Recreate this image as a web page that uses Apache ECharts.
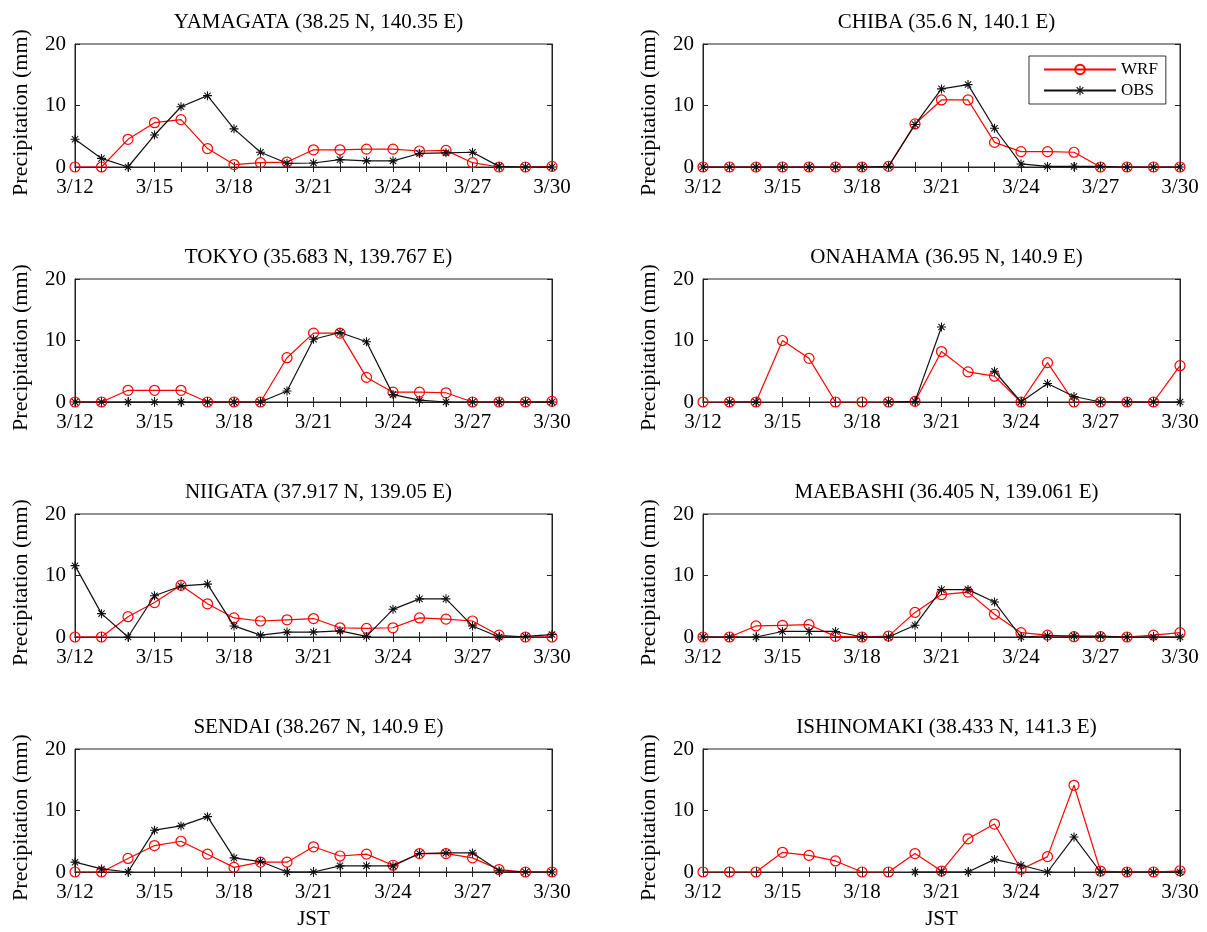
<!DOCTYPE html>
<html><head><meta charset="utf-8">
<script src="https://cdn.jsdelivr.net/npm/echarts@6/dist/echarts.min.js"></script>
<style>html,body{margin:0;padding:0;background:#fff}#c{width:1207px;height:932px}</style>
</head><body><div id="c"></div>
<script>
const days = ['3/12','3/13','3/14','3/15','3/16','3/17','3/18','3/19','3/20','3/21','3/22','3/23','3/24','3/25','3/26','3/27','3/28','3/29','3/30'];
const yTicks = [0, 10, 20];
const stationTitles = [
  'YAMAGATA (38.25 N, 140.35 E)', 'CHIBA (35.6 N, 140.1 E)',
  'TOKYO (35.683 N, 139.767 E)', 'ONAHAMA (36.95 N, 140.9 E)',
  'NIIGATA (37.917 N, 139.05 E)', 'MAEBASHI (36.405 N, 139.061 E)',
  'SENDAI (38.267 N, 140.9 E)', 'ISHINOMAKI (38.433 N, 141.3 E)'
];
const yamagataWRF = [0,0,4.5,7.2,7.7,3.0,0.4,0.7,0.8,2.8,2.8,2.9,2.9,2.6,2.7,0.7,0,0,0.1];
const yamagataOBS = [4.5,1.4,0,5.2,9.8,11.6,6.2,2.4,0.6,0.65,1.2,1.0,1.0,2.2,2.3,2.4,0.1,0,0];
const chibaWRF = [0,0,0,0,0,0,0,0.1,7.0,10.9,10.9,4.0,2.5,2.5,2.4,0,0,0,0];
const chibaOBS = [0,0,0,0,0,0,0,0.1,6.9,12.7,13.4,6.3,0.5,0.1,0.1,0.1,0,0,0];
const tokyoWRF = [0,0,1.9,1.9,1.9,0,0,0,7.2,11.2,11.2,4.0,1.6,1.6,1.5,0,0,0,0.1];
const tokyoOBS = [0,0,0,0,0,0,0,0,1.8,10.2,11.3,9.8,1.2,0.3,0,0,0,0,0];
const onahamaWRF = [0,0,0,10.0,7.1,0,0,0,0.1,8.2,4.9,4.2,0,6.4,0,0,0,0,5.9];
const onahamaOBS = [null,0,0,null,null,null,null,0,0.1,12.2,null,5.0,0,3.0,0.9,0,0,0,0];
const niigataWRF = [0,0,3.3,5.6,8.4,5.4,3.1,2.6,2.8,3.0,1.5,1.4,1.5,3.1,2.9,2.6,0.3,0,0];
const niigataOBS = [11.6,3.8,0,6.7,8.3,8.6,1.8,0.3,0.8,0.8,1.0,0.1,4.5,6.2,6.2,1.8,0,0.1,0.4];
const maebashiWRF = [0,0,1.8,1.9,2.0,0.1,0,0.15,4.0,6.9,7.3,3.7,0.7,0.3,0.05,0.05,0,0.3,0.7];
const maebashiOBS = [0,0,0,0.9,0.9,0.9,0,0,1.9,7.7,7.7,5.7,0,0.2,0.15,0.15,0,0,0];
const sendaiWRF = [0,0,2.2,4.3,5.0,2.9,0.75,1.6,1.6,4.1,2.6,2.9,1.1,3.0,3.0,2.3,0.4,0,0];
const sendaiOBS = [1.6,0.5,0,6.8,7.5,9.0,2.3,1.7,0,0,1.0,1.0,1.0,3.0,3.1,3.1,0.2,0,0];
const ishinomakiWRF = [0,0,0,3.2,2.7,1.8,0,0,3.0,0.15,5.4,7.8,0.45,2.5,14.1,0.15,0,0,0.2];
const ishinomakiOBS = [null,null,null,null,null,null,null,null,0,0,0,2.05,1.1,0,5.7,0,0,0,0];

const wrfList = [yamagataWRF, chibaWRF, tokyoWRF, onahamaWRF, niigataWRF, maebashiWRF, sendaiWRF, ishinomakiWRF];
const obsList = [yamagataOBS, chibaOBS, tokyoOBS, onahamaOBS, niigataOBS, maebashiOBS, sendaiOBS, ishinomakiOBS];

const FONT = 'Liberation Serif';
const AX = '#222';
const colLeft = [75, 703];
const plotW = 477;
const rowTop = [44, 279, 514, 749];
const plotH = 123;
const asterisk = 'path://M-0.6,-5L0.6,-5L0.6,5L-0.6,5Z M-5,-0.6L5,-0.6L5,0.6L-5,0.6Z M-3.08,-3.92L3.92,3.08L3.08,3.92L-3.92,-3.08Z M3.08,-3.92L3.92,-3.08L-3.08,3.92L-3.92,3.08Z';

const grids = [], xAxes = [], yAxes = [], series = [], titles = [];
for (let i = 0; i < 8; i++) {
  const c = i % 2, r = Math.floor(i / 2);
  grids.push({left: colLeft[c], top: rowTop[r], width: plotW, height: plotH, show: true, borderColor: AX, borderWidth: 1, backgroundColor: 'transparent'});
  titles.push({text: stationTitles[i], left: colLeft[c] + plotW / 2, top: rowTop[r] - 37, textAlign: 'center',
    textStyle: {fontFamily: FONT, fontSize: 21, fontWeight: 'normal', color: '#000'}});
  xAxes.push({type: 'category', gridIndex: i, data: days, boundaryGap: false, position: 'bottom',
    axisLine: {lineStyle: {color: AX, width: 1}},
    axisTick: {inside: true, length: 5, interval: 0, lineStyle: {color: AX}},
    axisLabel: {interval: 2, margin: 10, color: '#000', fontFamily: FONT, fontSize: 21},
    name: r === 3 ? 'JST' : '', nameLocation: 'middle', nameGap: 37,
    nameTextStyle: {fontFamily: FONT, fontSize: 21, color: '#000'},
    splitLine: {show: false}});
  xAxes.push({type: 'category', gridIndex: i, data: days, boundaryGap: false, position: 'top',
    axisLine: {lineStyle: {color: AX, width: 1}},
    axisTick: {inside: true, length: 5, interval: 0, lineStyle: {color: AX}},
    axisLabel: {show: false}, splitLine: {show: false}});
  yAxes.push({type: 'value', gridIndex: i, min: yTicks[0], max: yTicks[yTicks.length - 1], interval: 10, position: 'left',
    axisLine: {show: true, lineStyle: {color: AX, width: 1}},
    axisTick: {show: true, inside: true, length: 5, lineStyle: {color: AX}},
    axisLabel: {margin: 9, color: '#000', fontFamily: FONT, fontSize: 21},
    name: 'Precipitation (mm)', nameLocation: 'middle', nameRotate: 90, nameGap: 43,
    nameTextStyle: {fontFamily: FONT, fontSize: 22, color: '#000', padding: [0, 14, 0, 0]},
    splitLine: {show: false}});
  yAxes.push({type: 'value', gridIndex: i, min: yTicks[0], max: yTicks[yTicks.length - 1], interval: 10, position: 'right',
    axisLine: {show: true, lineStyle: {color: AX, width: 1}},
    axisTick: {show: true, inside: true, length: 5, lineStyle: {color: AX}},
    axisLabel: {show: false}, splitLine: {show: false}});
  series.push({name: 'WRF', type: 'line', xAxisIndex: 2 * i, yAxisIndex: 2 * i, data: wrfList[i],
    symbol: 'circle', symbolSize: 10, showAllSymbol: true,
    lineStyle: {color: '#ff0000', width: 1.2},
    itemStyle: {color: 'rgba(255,255,255,0)', borderColor: '#ff0000', borderWidth: 1.2},
    z: 2, animation: false});
  series.push({name: 'OBS', type: 'line', xAxisIndex: 2 * i, yAxisIndex: 2 * i, data: obsList[i],
    symbol: asterisk, symbolSize: 9, showAllSymbol: true,
    lineStyle: {color: '#111', width: 1.2},
    itemStyle: {color: '#111'},
    z: 3, animation: false});
}

const chart = echarts.init(document.getElementById('c'), null, {renderer: 'canvas'});
chart.setOption({
  backgroundColor: '#fff',
  animation: false,
  title: titles,
  legend: {
    data: ['WRF', 'OBS'], orient: 'vertical', left: 1029, top: 56,
    borderColor: '#333', borderWidth: 1, padding: [5, 8, 5, 14], itemGap: 4,
    itemWidth: 72, itemHeight: 12, selectedMode: false,
    textStyle: {fontFamily: FONT, fontSize: 17, color: '#000'}
  },
  grid: grids, xAxis: xAxes, yAxis: yAxes, series: series
});
</script>
</body></html>
